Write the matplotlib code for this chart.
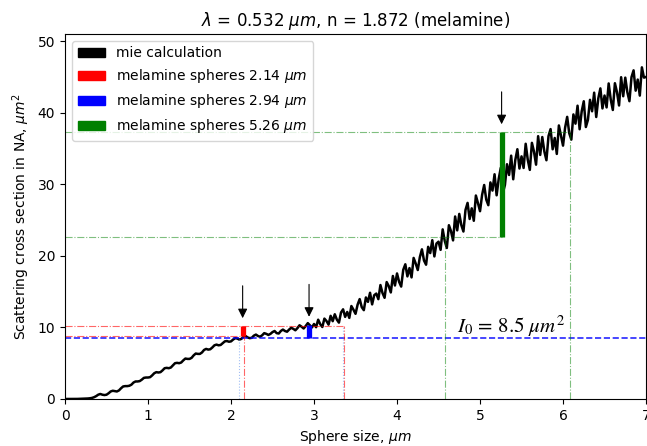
import numpy as np
import matplotlib
matplotlib.use('Agg')
import matplotlib.pyplot as plt
from matplotlib.patches import Patch

# mie curve, sampled every 0.025 um (rows of 0.25 um)
size_step = 0.025
mie_vals = [
    0, 0, 0, 0, 0, 0.01, 0.01, 0.02, 0.03, 0.04,
    0.05, 0.07, 0.1, 0.15, 0.25, 0.4, 0.6, 0.7, 0.6, 0.55,
    0.6, 0.8, 1.05, 1.15, 1.1, 1.05, 1.2, 1.5, 1.75, 1.8,
    1.8, 1.85, 2.0, 2.3, 2.45, 2.45, 2.5, 2.7, 2.95, 3.0,
    3.0, 3.05, 3.3, 3.6, 3.75, 3.7, 3.75, 4.0, 4.3, 4.35,
    4.3, 4.4, 4.7, 5.0, 5.05, 5.0, 5.1, 5.4, 5.65, 5.6,
    5.6, 5.75, 6.1, 6.35, 6.3, 6.3, 6.5, 6.85, 7.0, 6.9,
    6.95, 7.2, 7.5, 7.6, 7.5, 7.55, 7.8, 8.05, 8.1, 8.0,
    8.05, 8.3, 8.5, 8.45, 8.3, 8.4, 8.7, 8.8, 8.6, 8.5,
    8.55, 8.85, 9.0, 8.8, 8.7, 8.9, 9.2, 9.1, 8.95, 9.1,
    9.35, 9.5, 9.2, 9.15, 9.5, 9.7, 9.5, 9.4, 9.7, 9.95,
    9.8, 9.6, 9.9, 10.3, 10.1, 9.85, 10.2, 10.6, 10.3, 10.0,
    10.48, 10.03, 11.08, 10.45, 10.06, 11.23, 10.9, 10.39, 11.62, 10.87,
    11.84, 11.09, 10.67, 12.08, 12.53, 11.47, 12.16, 11.33, 12.99, 12.48,
    11.9, 13.18, 13.96, 12.83, 12.41, 14.19, 13.57, 14.84, 13.22, 14.5,
    14.73, 13.95, 15.92, 14.81, 14.14, 16.34, 15.78, 14.89, 17.19, 15.86,
    17.54, 16.37, 15.71, 18.05, 18.82, 17.13, 18.29, 16.99, 19.71, 18.93,
    18.02, 19.82, 20.91, 19.35, 18.76, 21.26, 20.39, 22.19, 19.92, 21.72,
    21.98, 20.84, 23.7, 22.08, 21.1, 24.28, 23.46, 22.16, 25.5, 23.56,
    25.86, 24.29, 23.4, 26.42, 27.4, 25.15, 26.64, 24.9, 28.43, 27.37,
    26.24, 28.52, 29.9, 27.86, 27.08, 30.26, 29.12, 31.4, 28.46, 30.74,
    32.3, 28.8, 29.9, 32.8, 31.3, 34.0, 30.7, 33.4, 34.9, 32.2,
    33.9, 32.28, 35.66, 33.43, 32.01, 35.79, 34.57, 32.74, 36.72, 34.1,
    36.6, 34.58, 33.36, 36.73, 37.71, 34.89, 36.47, 34.24, 38.22, 36.8,
    35.4, 37.91, 39.42, 37.13, 36.24, 39.76, 38.47, 40.98, 37.69, 40.2,
    41.6, 38.0, 39.0, 41.8, 40.2, 42.8, 39.4, 42.0, 43.4, 40.6,
    42.4, 40.74, 44.09, 41.83, 40.38, 44.12, 42.87, 41.01, 44.96, 42.3,
    44.9, 42.86, 41.61, 44.97, 45.92, 43.08, 44.63, 42.39, 46.34, 44.9,
    45.0,
]
mie_sizes = np.arange(len(mie_vals)) * size_step

# measured spheres
sphere_sizes = [2.14, 2.94, 5.26]
sphere_lo = [8.8, 8.5, 22.6]
sphere_hi = [10.2, 10.4, 37.3]
sphere_colors = ['red', 'blue', 'green']
labels = ['mie calculation',
          r'melamine spheres 2.14 $\mu m$',
          r'melamine spheres 2.94 $\mu m$',
          r'melamine spheres 5.26 $\mu m$']

I0 = 8.5

# size ranges and cross-section ranges (guide lines)
red_range = [2.16, 3.36]
red_levels = [8.8, 10.2]
blue_range = [2.10, 3.35]
blue_levels = [8.5, 10.2]
green_range = [4.58, 6.08]
green_levels = [22.6, 37.3]

fig = plt.figure(figsize=(6.47, 4.46), dpi=100)
ax = fig.add_axes([0.1005, 0.1054, 0.898, 0.8184])

ax.plot(mie_sizes, mie_vals, color='black', lw=1.8)

ax.axhline(I0, color='blue', ls='--', lw=1.2, alpha=0.85)

# guide lines
for rng, lev, col, ls, a in [(green_range, green_levels, 'green', '-.', 0.5),
                             (red_range, red_levels, 'red', '-.', 0.6),
                             (blue_range, blue_levels, 'cornflowerblue', ':', 0.6)]:
    for xv, yv in zip(rng, lev):
        ax.plot([xv, xv], [0, yv], color=col, ls=ls, lw=0.8, alpha=a)
ax.plot([0, green_range[1]], [green_levels[1]] * 2, color='green', ls='-.', lw=0.8, alpha=0.5)
ax.plot([0, sphere_sizes[2]], [green_levels[0]] * 2, color='green', ls='-.', lw=0.8, alpha=0.5)
ax.plot([0, red_range[1]], [red_levels[1]] * 2, color='red', ls='-.', lw=0.8, alpha=0.6)
ax.plot([0, red_range[0]], [red_levels[0]] * 2, color='red', ls='-.', lw=0.8, alpha=0.6)

# spheres bars and arrows
ax.vlines(sphere_sizes, sphere_lo, sphere_hi, colors=sphere_colors, lw=3.8)
for s, hi in zip(sphere_sizes, sphere_hi):
    ax.annotate('', xy=(s, hi + 0.7), xytext=(s, hi + 6.0),
                arrowprops=dict(arrowstyle='-|>', color='black', lw=0.8,
                                mutation_scale=14))

ax.text(4.72, 9.3, r'$I_0\,=\,8.5\ \mu m^2$', fontsize=15, math_fontfamily='stix')

ax.set_xlim(0, 7)
ax.set_ylim(0, 51)
ax.set_title(r'$\lambda$ = 0.532 $\mu m$, n = 1.872 (melamine)', fontsize=12)
ax.set_xlabel(r'Sphere size, $\mu m$')
ax.set_ylabel(r'Scattering cross section in NA, $\mu m^2$')

handles = [Patch(color=c) for c in ['black'] + sphere_colors]
ax.legend(handles, labels, loc='upper left', fontsize=10)

fig.savefig('out.png', dpi=100)
